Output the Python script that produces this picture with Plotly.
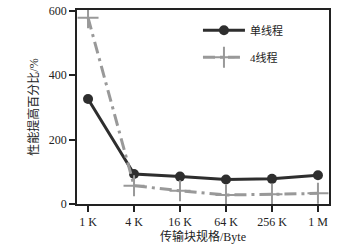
import plotly.graph_objects as go

categories = ["1 K", "4 K", "16 K", "64 K", "256 K", "1 M"]
single_thread = [326, 93, 85, 76, 78, 89]
four_thread = [578, 57, 41, 28, 30, 33]
y_ticks = [0, 200, 400, 600]

FONT = "Liberation Serif, Times New Roman, Noto Sans CJK SC, serif"

fig = go.Figure()
fig.add_trace(go.Scatter(
    x=list(range(len(categories))), y=single_thread, name="单线程",
    mode="lines+markers", legendgroup="a",
    line=dict(color="#2e2e2e", width=3),
    marker=dict(symbol="circle", size=10, color="#2e2e2e"),
))
fig.add_trace(go.Scatter(
    x=list(range(len(categories))), y=four_thread, name="4线程",
    mode="lines+markers", legendgroup="b",
    line=dict(color="#999999", width=3, dash="12px,5px,3px,5px"),
    marker=dict(symbol="cross-thin", size=15, line=dict(color="#999999", width=2)),
))

fig.update_layout(
    width=343, height=247,
    margin=dict(l=77, r=14, t=10, b=43, autoexpand=False),
    paper_bgcolor="white", plot_bgcolor="white",
    font=dict(family=FONT, size=12, color="#222"),
    showlegend=True, hovermode=False,
    legend=dict(x=0.48, y=0.97, xanchor="left", yanchor="top",
                bgcolor="rgba(0,0,0,0)", font=dict(size=11, family=FONT),
                tracegroupgap=8, itemwidth=42),
)
fig.update_xaxes(
    range=[-0.24, 5.24], tickvals=list(range(len(categories))), ticktext=categories,
    showline=True, linecolor="#222", linewidth=1.5, mirror=True,
    ticks="outside", ticklen=6, tickwidth=1.5, tickcolor="#222",
    showgrid=False, zeroline=False, automargin=True,
    title=dict(text="传输块规格/Byte", font=dict(size=12, family=FONT), standoff=4),
)
fig.update_yaxes(
    range=[0, 602], tickvals=y_ticks,
    showline=True, linecolor="#222", linewidth=1.5, mirror=True,
    ticks="outside", ticklen=6, tickwidth=1.5, tickcolor="#222",
    showgrid=False, zeroline=False, automargin=True, ticklabeloverflow="allow",
    title=dict(text="性能提高百分比/%", font=dict(size=12, family=FONT), standoff=8),
)

fig.write_html("out.html", config={"displayModeBar": False},
               post_script="document.body.style.margin='0px';")
